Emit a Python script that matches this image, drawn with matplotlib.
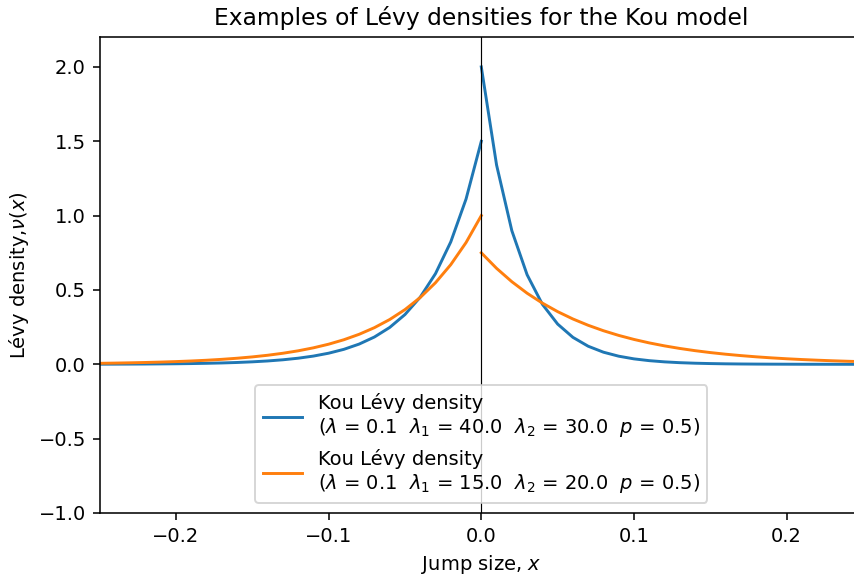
import matplotlib
matplotlib.use("Agg")
import matplotlib.pyplot as plt

# ---------------- data ----------------
# jump sizes (left branch ends at 0, right branch starts at 0)
x_neg = [-0.25, -0.24, -0.23, -0.22, -0.21, -0.20, -0.19, -0.18, -0.17, -0.16,
         -0.15, -0.14, -0.13, -0.12, -0.11, -0.10, -0.09, -0.08, -0.07, -0.06,
         -0.05, -0.04, -0.03, -0.02, -0.01, 0.0]
x_pos = [0.0, 0.01, 0.02, 0.03, 0.04, 0.05, 0.06, 0.07, 0.08, 0.09,
         0.10, 0.11, 0.12, 0.13, 0.14, 0.15, 0.16, 0.17, 0.18, 0.19,
         0.20, 0.21, 0.22, 0.23, 0.24, 0.25]

# Kou density 1 (lambda=0.1, lambda1=40, lambda2=30, p=0.5)
nu1_neg = [0.0008, 0.0011, 0.0015, 0.0020, 0.0028, 0.0037, 0.0050, 0.0068, 0.0091, 0.0123,
           0.0167, 0.0225, 0.0304, 0.0410, 0.0553, 0.0747, 0.1008, 0.1361, 0.1837, 0.2479,
           0.3347, 0.4518, 0.6099, 0.8232, 1.1112, 1.5]
nu1_pos = [2.0, 1.3406, 0.8987, 0.6024, 0.4038, 0.2707, 0.1814, 0.1216, 0.0815, 0.0546,
           0.0366, 0.0246, 0.0165, 0.0110, 0.0074, 0.0050, 0.0033, 0.0022, 0.0015, 0.0010,
           0.0007, 0.0004, 0.0003, 0.0002, 0.0001, 0.0001]

# Kou density 2 (lambda=0.1, lambda1=15, lambda2=20, p=0.5)
nu2_neg = [0.0067, 0.0082, 0.0101, 0.0123, 0.0150, 0.0183, 0.0224, 0.0273, 0.0334, 0.0408,
           0.0498, 0.0608, 0.0743, 0.0907, 0.1108, 0.1353, 0.1653, 0.2019, 0.2466, 0.3012,
           0.3679, 0.4493, 0.5488, 0.6703, 0.8187, 1.0]
nu2_pos = [0.75, 0.6455, 0.5556, 0.4782, 0.4116, 0.3543, 0.3049, 0.2625, 0.2259, 0.1944,
           0.1673, 0.1440, 0.1240, 0.1067, 0.0918, 0.0790, 0.0680, 0.0586, 0.0504, 0.0434,
           0.0373, 0.0321, 0.0277, 0.0238, 0.0205, 0.0176]

label1 = 'Kou Lévy density\n($\\lambda$ = 0.1  $\\lambda_1$ = 40.0  $\\lambda_2$ = 30.0  $p$ = 0.5)'
label2 = 'Kou Lévy density\n($\\lambda$ = 0.1  $\\lambda_1$ = 15.0  $\\lambda_2$ = 20.0  $p$ = 0.5)'

# nan breaks the line at the jump in 0 (no vertical segment)
gap = [float('nan')]

# ---------------- figure ----------------
DPI = 140.5
fig = plt.figure(figsize=(854 / DPI, 577 / DPI), dpi=DPI)
ax = fig.add_axes([99.6 / 854, (577 - 513) / 577, (863 - 99.6) / 854, (513 - 37.2) / 577])

ax.plot(x_neg + gap + x_pos, nu1_neg + gap + nu1_pos, label=label1)
ax.plot(x_neg + gap + x_pos, nu2_neg + gap + nu2_pos, label=label2)
ax.axvline(0, color='k', linewidth=0.6)

ax.set_xlim(-0.25, 0.25)
ax.set_ylim(-1.0, 2.2)
ax.set_xlabel('Jump size, $x$')
ax.set_ylabel('Lévy density,$\\nu(x)$')
ax.set_title('Examples of Lévy densities for the Kou model')
ax.legend(loc='lower center')

fig.savefig('out.png', dpi=DPI)
